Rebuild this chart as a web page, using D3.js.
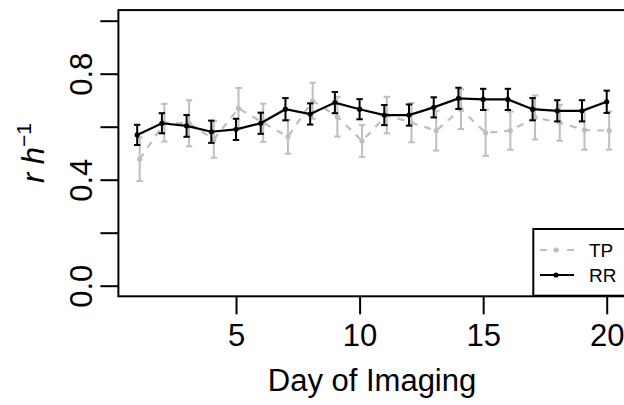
<!DOCTYPE html>
<html><head><meta charset="utf-8">
<script src="https://cdn.jsdelivr.net/npm/d3@7"></script>
<style>body{margin:0;background:#fff}svg{display:block;font-family:"Liberation Sans",Arial,sans-serif}</style>
</head><body>
<svg id="c" width="624" height="405"></svg>
<script>
const days = [1,2,3,4,5,6,7,8,9,10,11,12,13,14,15,16,17,18,19,20];
const rr = [0.569,0.613,0.603,0.581,0.590,0.613,0.666,0.648,0.691,0.666,0.644,0.644,0.673,0.707,0.703,0.703,0.666,0.660,0.660,0.694];
const rrErr = [0.038,0.038,0.041,0.042,0.040,0.040,0.042,0.040,0.040,0.038,0.038,0.040,0.038,0.040,0.040,0.040,0.042,0.040,0.040,0.042];
const tp = [0.477,0.615,0.613,0.552,0.669,0.615,0.562,0.698,0.638,0.546,0.644,0.615,0.585,0.666,0.577,0.585,0.635,0.615,0.588,0.585];
const tpErr = [0.082,0.071,0.087,0.069,0.077,0.072,0.064,0.068,0.075,0.060,0.069,0.074,0.075,0.075,0.087,0.072,0.083,0.068,0.075,0.072];
const tpOffset = 0.1;
const xTicks = [5,10,15,20];
const yTicks = [0,0.2,0.4,0.6,0.8,1.0];
const yTickLabels = ["0.0","","0.4","","0.8",""];
const seriesNames = ["TP","RR"];
const seriesColors = ["#bebebe","#000000"];

const svg = d3.select("#c");
const x = d3.scaleLinear().domain([0.24,20.76]).range([118.4,625.5]);
const y = d3.scaleLinear().domain([-0.04,1.04]).range([296.3,10.1]);

// box
svg.append("rect").attr("x",118.4).attr("y",10.1).attr("width",625.5-118.4).attr("height",296.3-10.1)
  .attr("fill","none").attr("stroke","#000").attr("stroke-width",2);

// x axis
const xAxis = d3.axisBottom(x).tickValues(xTicks).tickSize(18).tickFormat(d3.format("d"));
const gx = svg.append("g").attr("transform","translate(0,296.3)").call(xAxis);
gx.select(".domain").remove();
gx.selectAll("line").attr("stroke-width",2);
gx.selectAll("text").attr("font-size",31).attr("fill","#000").attr("dy","0.71em").attr("y",28);

// y axis
const yAxis = d3.axisLeft(y).tickValues(yTicks).tickSize(18).tickFormat((d,i)=>yTickLabels[i]);
const gy = svg.append("g").attr("transform","translate(118.4,0)").call(yAxis);
gy.select(".domain").remove();
gy.selectAll("line").attr("stroke-width",2);
gy.selectAll("text").attr("font-size",31).attr("fill","#000")
  .attr("x",null).attr("dy",null).attr("text-anchor","middle")
  .attr("transform","translate(-26.5,0) rotate(-90)")
  .attr("y",0);

// axis titles
svg.append("text").attr("x",372).attr("y",391).attr("text-anchor","middle").attr("font-size",31).text("Day of Imaging");
const yl = svg.append("text").attr("transform","translate(44,153) rotate(-90)").attr("text-anchor","middle").attr("font-size",31).attr("font-style","italic");
yl.append("tspan").text("r h");
yl.append("tspan").attr("font-size",21).attr("font-style","normal").attr("dy",-13).text("\u22121");

function drawSeries(vals, errs, off, color, dash){
  const g = svg.append("g");
  const data = days.map((d,i)=>({d:d+off,v:vals[i],e:errs[i]}));
  g.selectAll("line.eb").data(data).join("line").attr("class","eb")
    .attr("x1",p=>x(p.d)).attr("x2",p=>x(p.d)).attr("y1",p=>y(p.v-p.e)).attr("y2",p=>y(p.v+p.e))
    .attr("stroke",color).attr("stroke-width",2);
  ["lo","hi"].forEach(k=>{
    g.selectAll("line.c"+k).data(data).join("line").attr("class","c"+k)
      .attr("x1",p=>x(p.d)-3.2).attr("x2",p=>x(p.d)+3.2)
      .attr("y1",p=>y(k=="lo"?p.v-p.e:p.v+p.e)).attr("y2",p=>y(k=="lo"?p.v-p.e:p.v+p.e))
      .attr("stroke",color).attr("stroke-width",2);
  });
  g.append("path").datum(data).attr("d",d3.line().x(p=>x(p.d)).y(p=>y(p.v)))
    .attr("fill","none").attr("stroke",color).attr("stroke-width",2.2).attr("stroke-dasharray",dash);
  g.selectAll("circle").data(data).join("circle").attr("cx",p=>x(p.d)).attr("cy",p=>y(p.v)).attr("r",2.6).attr("fill",color);
}
drawSeries(tp,tpErr,tpOffset,seriesColors[0],"7,7");
drawSeries(rr,rrErr,0,seriesColors[1],null);

// legend
const lg = svg.append("g");
lg.append("rect").attr("x",533.3).attr("y",229).attr("width",120).attr("height",66.7).attr("fill","#fff").attr("stroke","#000").attr("stroke-width",2);
seriesNames.forEach((n,i)=>{
  const yy = 250 + i*25;
  lg.append("line").attr("x1",540).attr("x2",574).attr("y1",yy).attr("y2",yy).attr("stroke",seriesColors[i]).attr("stroke-width",2)
    .attr("stroke-dasharray", i==0 ? "7,8,4,8,7" : null);
  lg.append("circle").attr("cx",556).attr("cy",yy).attr("r",2.6).attr("fill",seriesColors[i]);
  lg.append("text").attr("x",589).attr("y",yy).attr("dy","0.36em").attr("font-size",19).text(n);
});
</script>
</body></html>
